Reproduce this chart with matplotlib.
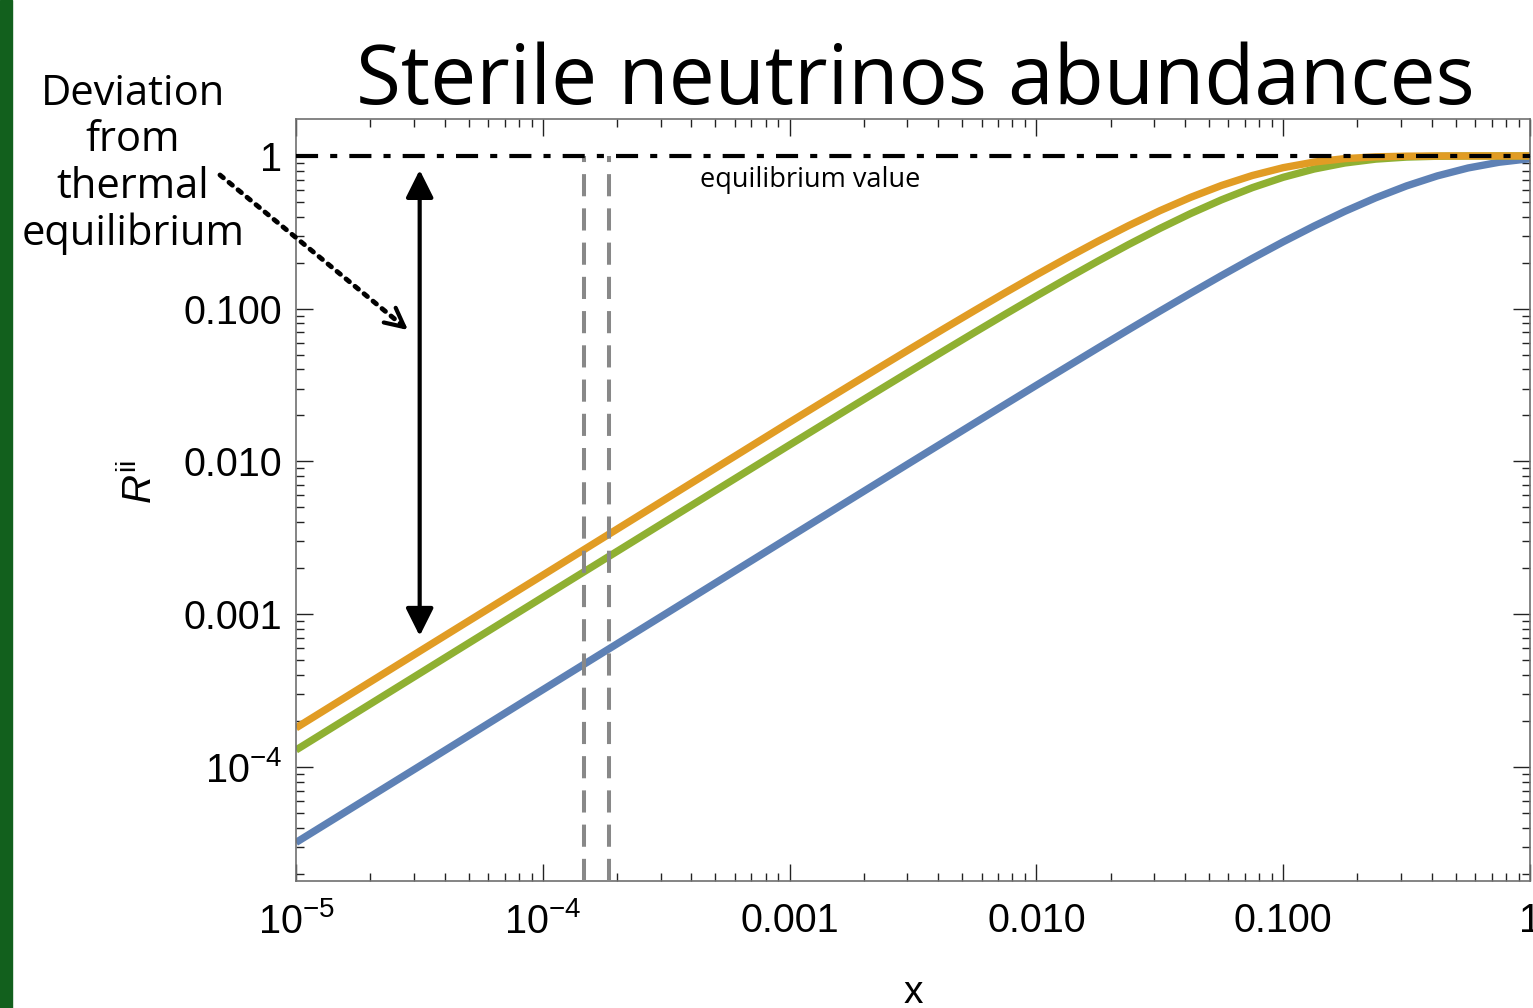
import matplotlib
matplotlib.use('Agg')
import matplotlib.pyplot as plt
from matplotlib.patches import Rectangle

plt.rcParams['font.family'] = ['Liberation Sans', 'DejaVu Sans']
plt.rcParams['mathtext.fontset'] = 'custom'
plt.rcParams['mathtext.rm'] = 'Liberation Sans'
plt.rcParams['mathtext.it'] = 'Liberation Sans:italic'

# x grid: half decades on the straight part, eighth decades through the bend
x_vals = [1e-5, 3.162e-5, 1e-4, 3.162e-4,
          1e-3, 1.334e-3, 1.778e-3, 2.371e-3, 3.162e-3, 4.217e-3, 5.623e-3, 7.499e-3,
          1e-2, 1.334e-2, 1.778e-2, 2.371e-2, 3.162e-2, 4.217e-2, 5.623e-2, 7.499e-2,
          0.1, 0.1334, 0.1778, 0.2371, 0.3162, 0.4217, 0.5623, 0.7499, 1.0]

# abundances
R_orange = [1.8e-4, 5.7e-4, 1.8e-3, 5.7e-3,
            0.01804, 0.02399, 0.03184, 0.04223, 0.05593, 0.07388, 0.09728, 0.1276,
            0.1664, 0.2155, 0.2765, 0.3505, 0.4376, 0.5358, 0.6407, 0.7446,
            0.838, 0.9117, 0.9607, 0.9866, 0.9968, 0.9995, 1.0, 1.0, 1.0]
R_green = [1.29e-4, 4.08e-4, 1.29e-3, 4.07e-3,
           0.01282, 0.01706, 0.02268, 0.03013, 0.03997, 0.05295, 0.06997, 0.09221,
           0.121, 0.158, 0.205, 0.2636, 0.335, 0.4196, 0.5159, 0.6199,
           0.7247, 0.8209, 0.8992, 0.9531, 0.9831, 0.9957, 0.9993, 0.9999, 1.0]
R_blue = [3.2e-5, 1.01e-4, 3.2e-4, 1.01e-3,
          0.003195, 0.00426, 0.005674, 0.00756, 0.01007, 0.0134, 0.01783, 0.02371,
          0.0315, 0.04177, 0.05531, 0.07307, 0.09625, 0.1262, 0.1647, 0.2134,
          0.2739, 0.3474, 0.4339, 0.5318, 0.6365, 0.7406, 0.8347, 0.9093, 0.9592]

# vertical markers
x_markers = [1.47e-4, 1.85e-4]

x_ticks = [1e-5, 1e-4, 1e-3, 1e-2, 1e-1, 1]
x_ticklabels = [r'$10^{-5}$', r'$10^{-4}$', '0.001', '0.010', '0.100', '1']
y_ticks = [1e-4, 1e-3, 1e-2, 1e-1, 1]
y_ticklabels = [r'$10^{-4}$', '0.001', '0.010', '0.100', '1']

title_font = 'Open Sans'

fig = plt.figure(figsize=(15.33, 10.08), dpi=100)
#dark green strip on the left edge
fig.patches.append(Rectangle((0, 0), 12 / 1533, 1, transform=fig.transFigure,
                             color='#12601d', zorder=0))

ax = fig.add_axes([0.1931, 0.126, 0.8049, 0.756])
ax.set_xscale('log')
ax.set_yscale('log')
ax.set_xlim(1e-5, 1)
ax.set_ylim(1.79e-5, 1.747)

ax.plot(x_vals, R_blue, color='#5e81b5', lw=5.3, zorder=2, solid_capstyle='butt')
ax.plot(x_vals, R_green, color='#8fb032', lw=5.3, zorder=2, solid_capstyle='butt')
ax.plot(x_vals, R_orange, color='#e19c24', lw=5.3, zorder=2, solid_capstyle='butt')

# equilibrium line
ax.axhline(1, color='black', lw=3, dashes=(5.3, 2.9, 1.7, 2.9), zorder=4)
ax.text(1.21e-3, 0.70, 'equilibrium value', fontsize=19.5, family=title_font,
        ha='center', va='center')

for xm in x_markers:
    ax.plot([xm, xm], [1.79e-5, 1], color='#888888', lw=2.9, dashes=(5.5, 3.0), zorder=3)

# double arrow
ax.annotate('', xy=(3.17e-5, 0.81), xytext=(3.17e-5, 7.2e-4),
            arrowprops=dict(arrowstyle='<|-|>', color='black', lw=3,
                            mutation_scale=42, shrinkA=0, shrinkB=0))

# dotted arrow from the label: dotted shaft, solid open head
tail = (220 / 1533, 1 - 175 / 1008)
tip = (408 / 1533, 1 - 330 / 1008)
near_tip = (400 / 1533, 1 - 323.5 / 1008)
ax.annotate('', xy=tip, xycoords='figure fraction', xytext=tail, textcoords='figure fraction',
            arrowprops=dict(arrowstyle='-', color='black', lw=3.5, linestyle=(0, (0.9, 1.5)),
                            shrinkA=0, shrinkB=2))
ax.annotate('', xy=tip, xycoords='figure fraction', xytext=near_tip,
            textcoords='figure fraction',
            arrowprops=dict(arrowstyle='->', color='black', lw=3,
                            mutation_scale=34, shrinkA=0, shrinkB=0))

ax.set_xticks(x_ticks)
ax.set_xticklabels(x_ticklabels)
ax.set_yticks(y_ticks)
ax.set_yticklabels(y_ticklabels)

ax.tick_params(which='both', direction='in', top=True, right=True, width=1, color='#222222')
ax.tick_params(which='major', length=12, labelsize=28.5)
ax.tick_params(which='minor', length=6)
ax.tick_params(axis='x', which='major', pad=15)
ax.tick_params(axis='y', which='major', pad=10)
for s in ax.spines.values():
    s.set_color('#707070')
    s.set_linewidth(1.2)

ax.set_xlabel('x', fontsize=28)
ax.xaxis.set_label_coords(0.5, -0.123)
fig.text(140 / 1533, 1 - 482 / 1008, r'$R^{\mathrm{ii}}$', fontsize=29, rotation=90,
         ha='center', va='center')

fig.text(915 / 1533, 1 - 104 / 1008, 'Sterile neutrinos abundances', fontsize=59,
         family=title_font, ha='center', va='baseline')
fig.text(133 / 1533, 1 - 164 / 1008, 'Deviation\nfrom\nthermal\nequilibrium', fontsize=30,
         family=title_font, ha='center', va='center', linespacing=1.15)

fig.savefig('out.png', dpi=100)
